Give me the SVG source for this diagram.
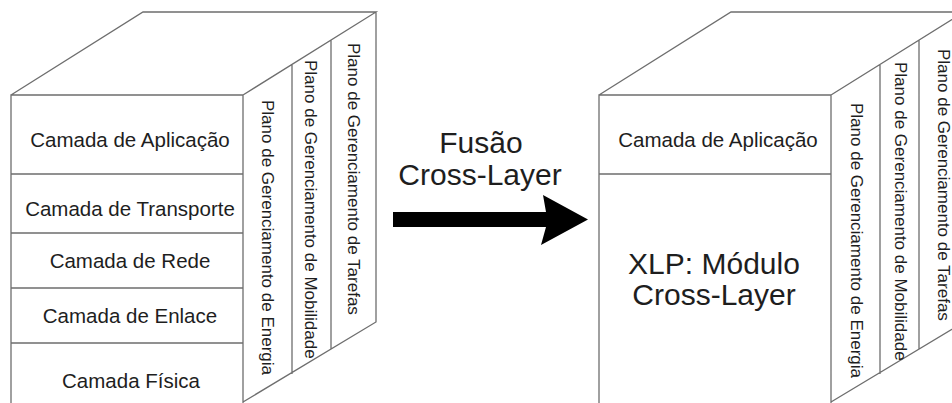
<svg xmlns="http://www.w3.org/2000/svg" width="952" height="403" viewBox="0 0 952 403">
<style>
.ln{fill:none;stroke:#6e6e6e;stroke-width:1.3}
.t{font-family:"Liberation Sans",Arial,sans-serif;fill:#1e1e1e;text-anchor:middle}
.s{font-family:"Liberation Sans",Arial,sans-serif;fill:#1e1e1e;font-size:17px}
.f{font-size:20.5px}
.b{font-size:30px}
</style>
<rect width="952" height="403" fill="#fff"/>
<g id="stack-left">
<path class="ln" d="M11,403 V95 H243 V403 M11,95 L143,12 H376 L243,95 M376,12 V322 L243,402 M292,64 V374 M331,40 V349 M11,174 H243 M11,233 H243 M11,288 H243 M11,343 H243"/>
<text class="t f" x="130" y="147">Camada de Aplicação</text>
<text class="t f" x="130" y="216">Camada de Transporte</text>
<text class="t f" x="130" y="268">Camada de Rede</text>
<text class="t f" x="130" y="323">Camada de Enlace</text>
<text class="t f" x="131" y="388">Camada Física</text>
<text class="s" transform="translate(262,100) rotate(90)">Plano de Gerenciamento de Energia</text>
<text class="s" transform="translate(305,60) rotate(90)">Plano de Gerenciamento de Mobilidade</text>
<text class="s" transform="translate(348,43) rotate(90)">Plano de Gerenciamento de Tarefas</text>
</g>
<g id="stack-right">
<path class="ln" d="M599,403 V95 H831 V403 M599,95 L731,12 H964 L831,95 M964,12 V322 L831,402 M880,64 V374 M919,40 V349 M599,174 H831"/>
<text class="t f" x="718" y="147">Camada de Aplicação</text>
<text class="t b" x="714" y="274">XLP: Módulo</text>
<text class="t b" x="714" y="305">Cross-Layer</text>
<text class="s" transform="translate(851,103) rotate(90)">Plano de Gerenciamento de Energia</text>
<text class="s" transform="translate(895,62) rotate(90)">Plano de Gerenciamento de Mobilidade</text>
<text class="s" transform="translate(938,49) rotate(90)">Plano de Gerenciamento de Tarefas</text>
</g>
<g id="connectors">
<polygon points="393,212 546,212 543,195 588,219.5 541,245 546,227 393,227" fill="#000"/>
<text class="t b" x="481" y="153">Fusão</text>
<text class="t b" x="480" y="185">Cross-Layer</text>
</g>
</svg>
